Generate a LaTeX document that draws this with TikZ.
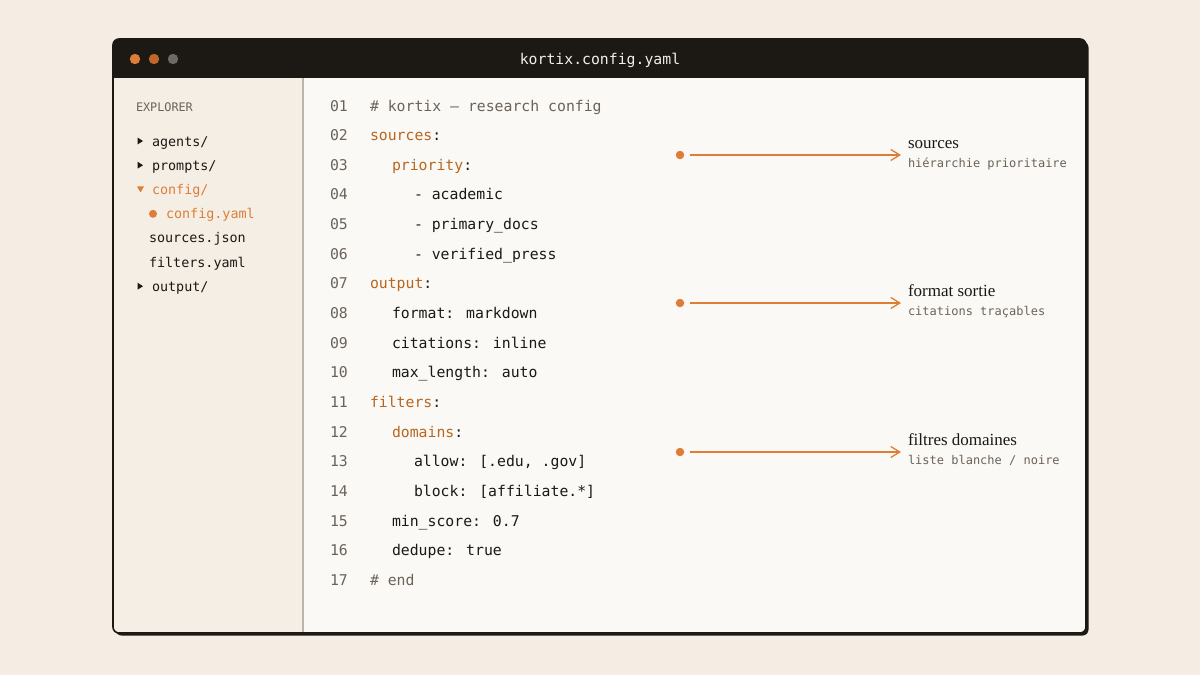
\documentclass[tikz,border=0pt]{standalone}
\usepackage{fontspec}
\setmainfont{Liberation Serif}
\newfontfamily\codefont{DejaVu Sans Mono}
\usetikzlibrary{arrows.meta}
\definecolor{pagebg}{HTML}{F5EDE3}
\definecolor{sidebg}{HTML}{F4EEE5}
\definecolor{codebg}{HTML}{FBF9F5}
\definecolor{ink}{HTML}{1C1814}
\definecolor{titletxt}{HTML}{F3EEE6}
\definecolor{accent}{HTML}{DD7E38}
\definecolor{accentdk}{HTML}{C0682A}
\definecolor{dotgrey}{HTML}{6E6A63}
\definecolor{keyc}{HTML}{B8661F}
\definecolor{muted}{HTML}{6B6259}
\definecolor{divider}{HTML}{BDB3A7}
\begin{document}
\begin{tikzpicture}[x=1pt,y=-1pt,
  txt/.style={anchor=base west,inner sep=0pt,outer sep=0pt},
  code/.style={txt,font=\codefont\fontsize{14.8}{16}\selectfont,text=ink},
  lnum/.style={txt,font=\codefont\fontsize{14.8}{16}\selectfont,text=muted},
  cmt/.style={code,text=muted},
  tree/.style={txt,font=\codefont\fontsize{13.4}{15}\selectfont,text=ink},
  hdr/.style={txt,font=\codefont\fontsize{11.8}{13}\selectfont,text=muted},
  lbl/.style={txt,font=\fontsize{17}{19}\selectfont,text=ink},
  sub/.style={txt,font=\codefont\fontsize{12}{14}\selectfont,text=muted},
  annodot/.style={circle,fill=accent,inner sep=0pt,minimum size=8.5pt},
  arr/.style={draw=accent,line width=1.3pt,-{Straight Barb[length=9pt,width=11pt,line width=1.3pt]}}
]
\useasboundingbox (0,0) rectangle (1200,675);
\fill[pagebg] (0,0) rectangle (1200,675);
% shadow
\fill[ink,rounded corners=6pt] (115.5,41.5) rectangle (1088.5,635.5);
% window
\begin{scope}
\clip[rounded corners=6pt] (113,39) rectangle (1086,633);
\fill[codebg] (113,39) rectangle (1086,633);
\fill[sidebg] (113,78) rectangle (303,633);
\fill[ink] (113,39) rectangle (1086,78);
\end{scope}
\draw[divider,line width=1.5pt] (303,78) -- (303,633);
\draw[ink,line width=1.6pt,rounded corners=6pt] (113,39) rectangle (1086,633);
% title bar
\fill[accent] (135,59) circle (5.2);
\fill[accentdk] (154,59) circle (5.2);
\fill[dotgrey] (173,59) circle (5.2);
\node[txt,anchor=base,font=\codefont\fontsize{14.8}{16}\selectfont,text=titletxt] (title) at (600,64.5) {kortix.config.yaml};
% explorer
\node[hdr] (exp) at (136,111) {EXPLORER};
\fill[ink] (137.5,137.5) -- (143,141) -- (137.5,144.5) -- cycle;
\node[tree] (t1) at (152,146) {agents/};
\fill[ink] (137.5,161.7) -- (143,165.2) -- (137.5,168.7) -- cycle;
\node[tree] (t2) at (152,170.2) {prompts/};
\fill[accent] (137,186.4) -- (144,186.4) -- (140.5,192.4) -- cycle;
\node[tree,text=accent] (t3) at (152,194.4) {config/};
\fill[accent] (153,213.8) circle (4);
\node[tree,text=accent] (t4) at (166,218.6) {config.yaml};
\node[tree] (t5) at (149,242.8) {sources.json};
\node[tree] (t6) at (149,267) {filters.yaml};
\fill[ink] (137.5,282.7) -- (143,286.2) -- (137.5,289.7) -- cycle;
\node[tree] (t7) at (152,291.2) {output/};
% line numbers
\foreach \i [evaluate=\i as \yy using 111+(\i-1)*29.65] in {1,...,17}{
  \node[lnum] (ln\i) at (330,\yy) {\ifnum\i<10 0\fi\i};
}
% code
\node[cmt] (c1) at (370,111) {\# kortix — research config};
\node[code] (c2) at (370,140.65) {\textcolor{keyc}{sources}:};
\node[code] (c3) at (392,170.3) {\textcolor{keyc}{priority}:};
\node[code] (c4) at (414,199.95) {- academic};
\node[code] (c5) at (414,229.6) {- primary\_docs};
\node[code] (c6) at (414,259.25) {- verified\_press};
\node[code] (c7) at (370,288.9) {\textcolor{keyc}{output}:};
\node[code] (c8) at (392,318.55) {format: markdown};
\node[code] (c9) at (392,348.2) {citations: inline};
\node[code] (c10) at (392,377.85) {max\_length: auto};
\node[code] (c11) at (370,407.5) {\textcolor{keyc}{filters}:};
\node[code] (c12) at (392,437.15) {\textcolor{keyc}{domains}:};
\node[code] (c13) at (414,466.8) {allow: [.edu, .gov]};
\node[code] (c14) at (414,496.45) {block: [affiliate.*]};
\node[code] (c15) at (392,526.1) {min\_score: 0.7};
\node[code] (c16) at (392,555.75) {dedupe: true};
\node[cmt] (c17) at (370,585.4) {\# end};
% annotations
\node[annodot] (d1) at (680,155) {};
\coordinate (e1) at (901,155);
\draw[arr,shorten <=10pt] (d1.center) -- (e1);
\node[lbl] (l1) at (908,148.3) {sources};
\node[sub] (s1) at (908,167.3) {hiérarchie prioritaire};
\node[annodot] (d2) at (680,303) {};
\coordinate (e2) at (901,303);
\draw[arr,shorten <=10pt] (d2.center) -- (e2);
\node[lbl] (l2) at (908,296.6) {format sortie};
\node[sub] (s2) at (908,315.6) {citations traçables};
\node[annodot] (d3) at (680,452) {};
\coordinate (e3) at (901,452);
\draw[arr,shorten <=10pt] (d3.center) -- (e3);
\node[lbl] (l3) at (908,445.3) {filtres domaines};
\node[sub] (s3) at (908,464.3) {liste blanche / noire};
\end{tikzpicture}
\end{document}
